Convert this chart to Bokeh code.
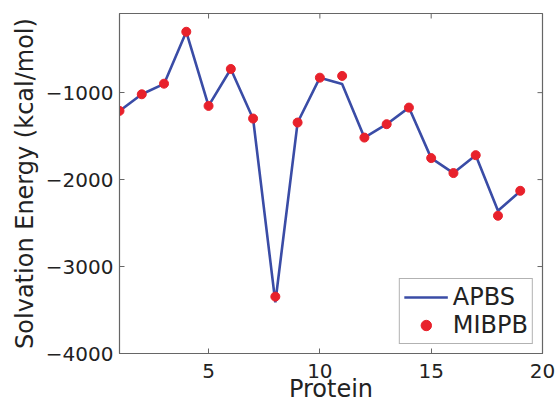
import math
from bokeh.plotting import figure
from bokeh.models import (ColumnDataSource, FixedTicker, Legend,
                          LegendItem, Range1d)
from bokeh.embed import file_html
from bokeh.resources import INLINE

# ---- data ----
protein = [1, 2, 3, 4, 5, 6, 7, 8, 9, 10, 11, 12, 13, 14, 15, 16, 17, 18, 19]
apbs = [-1210, -1019, -900, -300, -1153, -728, -1300, -3411, -1344, -828,
        -900, -1517, -1363, -1172, -1753, -1925, -1719, -2358, -2135]
mibpb = [-1210, -1019, -897, -300, -1153, -728, -1298, -3346, -1344, -828,
         -808, -1517, -1363, -1172, -1753, -1925, -1719, -2416, -2129]

x_ticks = [5, 10, 15, 20]
y_ticks = [-4000, -3000, -2000, -1000]
y_tick_labels = ["\u22124000", "\u22123000", "\u22122000", "\u22121000"]

FONT = "DejaVu Sans"
TXT = "#222222"
FRAME = "#666666"

x_min, x_max = 1, 20
y_min, y_max = -4000, -90

src = ColumnDataSource(dict(x=protein, apbs=apbs, mibpb=mibpb))

p = figure(width=557, height=408, output_backend="svg", toolbar_location=None,
           x_range=Range1d(x_min, x_max), y_range=Range1d(y_min, y_max),
           min_border_left=119, min_border_right=15, min_border_top=13,
           min_border_bottom=55)

p.background_fill_color = "white"
p.border_fill_color = "white"
p.grid.visible = False
p.outline_line_color = FRAME
p.outline_line_width = 1.2

line_r = p.line("x", "apbs", source=src, line_color="#3a4ca6", line_width=2.6)
dot_r = p.scatter("x", "mibpb", source=src, size=9, fill_color="#e8212b",
                  line_color="#e8212b")

# mirrored tick marks on the top and right edges (half of each dash is
# clipped by the frame, leaving an inward tick)
p.scatter(x=x_ticks, y=[y_max] * len(x_ticks), marker="dash", size=10,
          angle=math.pi / 2, line_color=FRAME, line_width=1)
p.scatter(x=[x_max] * len(y_ticks), y=y_ticks, marker="dash", size=10,
          line_color=FRAME, line_width=1)

# axes
xa = p.xaxis[0]
ya = p.yaxis[0]
xa.ticker = FixedTicker(ticks=x_ticks)
ya.ticker = FixedTicker(ticks=y_ticks)
ya.major_label_overrides = {t: l for t, l in zip(y_ticks, y_tick_labels)}
xa.axis_label = "Protein"
ya.axis_label = "Solvation Energy (kcal/mol)"
for ax in (xa, ya):
    ax.axis_line_color = FRAME
    ax.major_tick_line_color = FRAME
    ax.major_tick_in = 5
    ax.major_tick_out = 0
    ax.minor_tick_line_color = None
    ax.major_label_text_font = FONT
    ax.major_label_text_font_size = "20px"
    ax.major_label_text_color = TXT
    ax.axis_label_text_font = FONT
    ax.axis_label_text_font_style = "normal"
    ax.axis_label_text_color = TXT
    ax.axis_label_text_font_size = "24px"
xa.major_label_standoff = 10
xa.axis_label_standoff = -6
ya.major_label_standoff = 6
ya.axis_label_standoff = 4

legend = Legend(items=[LegendItem(label="APBS", renderers=[line_r]),
                       LegendItem(label="MIBPB", renderers=[dot_r])],
                location="bottom_right", margin=9, padding=4, spacing=0,
                glyph_width=44, glyph_height=26, label_height=26,
                label_standoff=5, label_text_font=FONT,
                label_text_font_size="24px", label_text_color=TXT,
                border_line_color="#666666", border_line_width=1,
                background_fill_color="white", background_fill_alpha=1)
p.add_layout(legend)

open("out.html", "w").write(file_html(p, INLINE))
